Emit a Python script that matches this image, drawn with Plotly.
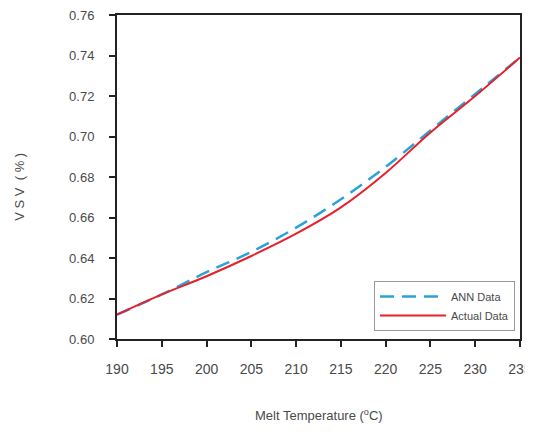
import plotly.graph_objects as go

temps = [190, 195, 200, 205, 210, 215, 220, 225, 230, 235]
ann_data = [0.612, 0.622, 0.633, 0.643, 0.655, 0.669, 0.685, 0.703, 0.721, 0.739]
actual_data = [0.612, 0.622, 0.631, 0.641, 0.652, 0.665, 0.682, 0.702, 0.720, 0.739]

x_ticks = [190, 195, 200, 205, 210, 215, 220, 225, 230, 235]
y_ticks = [0.60, 0.62, 0.64, 0.66, 0.68, 0.70, 0.72, 0.74, 0.76]

fig = go.Figure()
fig.add_trace(go.Scatter(x=temps, y=ann_data, mode="lines", name="ANN Data",
                         line=dict(color="#2aa3d9", width=2.5, dash="14px,8px", shape="spline")))
fig.add_trace(go.Scatter(x=temps, y=actual_data, mode="lines", name="Actual Data",
                         line=dict(color="#e8202a", width=2, shape="spline")))

fam = "Liberation Sans, Arial"
grey = "#4a4a4a"
fig.update_layout(
    width=525, height=416,
    margin=dict(l=109, r=13, t=7, b=85),
    plot_bgcolor="white", paper_bgcolor="white",
    font=dict(family=fam, size=12, color=grey),
    xaxis=dict(range=[190, 235], tickvals=x_ticks, ticks="outside", ticklen=6, tickwidth=2,
               tickcolor="#222", showline=True, linecolor="#222", linewidth=2, mirror=True,
               showgrid=False, zeroline=False, ticklabelstandoff=10, ticklabeloverflow="allow",
               automargin=False,
               tickfont=dict(family=fam, size=14, color=grey)),
    yaxis=dict(range=[0.60, 0.76], tickvals=y_ticks, tickformat=".2f", ticks="outside", ticklen=6, tickwidth=2,
               tickcolor="#222", showline=True, linecolor="#222", linewidth=2, mirror=True,
               showgrid=False, zeroline=False, ticklabelstandoff=12, ticklabeloverflow="allow",
               automargin=False,
               tickfont=dict(family=fam, size=13, color=grey)),
    legend=dict(x=0.9876, y=0.025, xanchor="right", yanchor="bottom",
                bgcolor="white", bordercolor="#999", borderwidth=1,
                font=dict(family=fam, size=11, color=grey),
                tracegroupgap=0, itemwidth=66),
    showlegend=True,
    annotations=[
        dict(text="Melt Temperature (<sup>o</sup>C)", xref="paper", yref="paper", x=0.5, y=-0.235,
             showarrow=False, xanchor="center", yanchor="middle", font=dict(family=fam, size=13, color=grey)),
        dict(text="V S V  ( % )", xref="paper", yref="paper", x=-0.2407, y=0.47,
             showarrow=False, xanchor="center", yanchor="middle", textangle=-90,
             font=dict(family=fam, size=13, color=grey)),
    ],
)

fig.write_html("out.html")
